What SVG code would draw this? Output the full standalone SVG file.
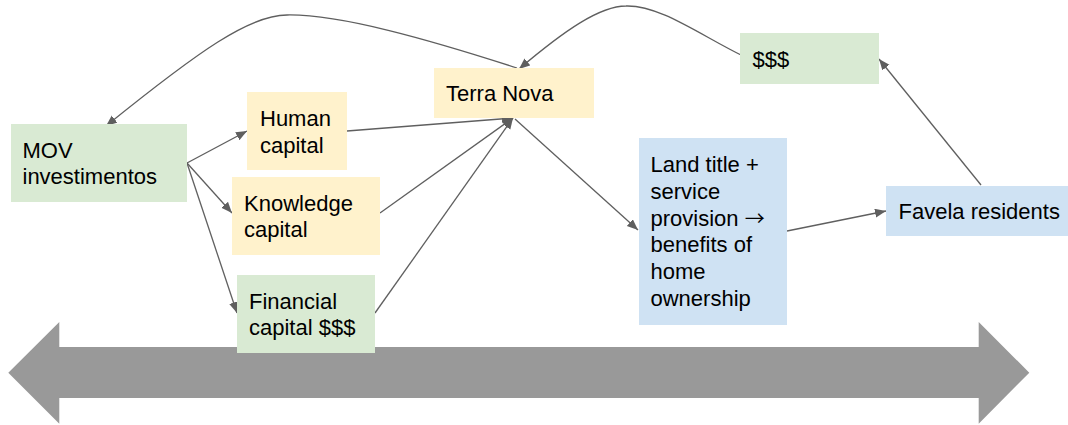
<svg xmlns="http://www.w3.org/2000/svg" width="1068" height="425" viewBox="0 0 1068 425">
<style>
.t{font-family:"Liberation Sans",Arial,sans-serif;font-size:22px;fill:#000}
.arr{font-family:"Noto Sans CJK SC","Noto Sans",sans-serif;font-size:20px}
.green{fill:#d9ead3}
.yellow{fill:#fff2cc}
.blue{fill:#cfe2f3}
.c{fill:none;stroke:#5f5f5f;stroke-width:1.3}
</style>
<defs>
<marker id="ah" markerUnits="userSpaceOnUse" markerWidth="12" markerHeight="10" refX="11" refY="4.5" orient="auto">
<path d="M0,0 L11,4.5 L0,9 z" fill="#5f5f5f"/>
</marker>
</defs>
<g id="timeline">
<polygon points="8.3,372.7 59.3,322 59.3,347 978.7,347 978.7,322 1029.3,372.7 978.7,423.7 978.7,398 59.3,398 59.3,423.7" fill="#999999"/>
</g>
<g id="connectors">
<line class="c" x1="187" y1="163" x2="247" y2="131" marker-end="url(#ah)"/>
<line class="c" x1="187" y1="163" x2="232" y2="213" marker-end="url(#ah)"/>
<line class="c" x1="187" y1="163" x2="237" y2="313" marker-end="url(#ah)"/>
<line class="c" x1="347" y1="131" x2="513" y2="118" marker-end="url(#ah)"/>
<line class="c" x1="380" y1="213" x2="513" y2="118" marker-end="url(#ah)"/>
<line class="c" x1="375" y1="313" x2="513" y2="118" marker-end="url(#ah)"/>
<line class="c" x1="515" y1="119" x2="638" y2="230" marker-end="url(#ah)"/>
<line class="c" x1="787" y1="231" x2="886" y2="211" marker-end="url(#ah)"/>
<line class="c" x1="981" y1="185" x2="879" y2="59" marker-end="url(#ah)"/>
<path class="c" d="M743,56 C700,35 660,5 626,6 C600,6 565,30 519,69" marker-end="url(#ah)"/>
<path class="c" d="M517,68 C430,40 340,14 287,15 C250,15 200,50 106,126" marker-end="url(#ah)"/>
</g>
<g id="mov">
<rect class="green" x="11" y="124" width="176" height="78"/>
<text class="t" x="22.5" y="157.5">MOV</text>
<text class="t" x="22.5" y="183.5">investimentos</text>
</g>
<g id="human">
<rect class="yellow" x="247" y="92" width="100" height="78"/>
<text class="t" x="260" y="126">Human</text>
<text class="t" x="260" y="153">capital</text>
</g>
<g id="knowledge">
<rect class="yellow" x="232" y="177" width="148" height="78"/>
<text class="t" x="244" y="210.5">Knowledge</text>
<text class="t" x="244" y="237">capital</text>
</g>
<g id="financial">
<rect class="green" x="237" y="275" width="138" height="78"/>
<text class="t" x="249" y="308.5">Financial</text>
<text class="t" x="249" y="334.5">capital $$$</text>
</g>
<g id="terranova">
<rect class="yellow" x="434" y="68" width="160" height="50"/>
<text class="t" x="446" y="101">Terra Nova</text>
</g>
<g id="dollars">
<rect class="green" x="740" y="33" width="139" height="51"/>
<text class="t" x="752.5" y="66.5">$$$</text>
</g>
<g id="landtitle">
<rect class="blue" x="639" y="138" width="148" height="187"/>
<text class="t" x="650.5" y="172">Land title +</text>
<text class="t" x="650.5" y="198.8">service</text>
<text class="t" x="650.5" y="225.6">provision <tspan class="arr">→</tspan></text>
<text class="t" x="650.5" y="252.4">benefits of</text>
<text class="t" x="650.5" y="279.2">home</text>
<text class="t" x="650.5" y="306">ownership</text>
</g>
<g id="favela">
<rect class="blue" x="886" y="186" width="190" height="50"/>
<text class="t" x="898.5" y="219">Favela residents</text>
</g>
</svg>
